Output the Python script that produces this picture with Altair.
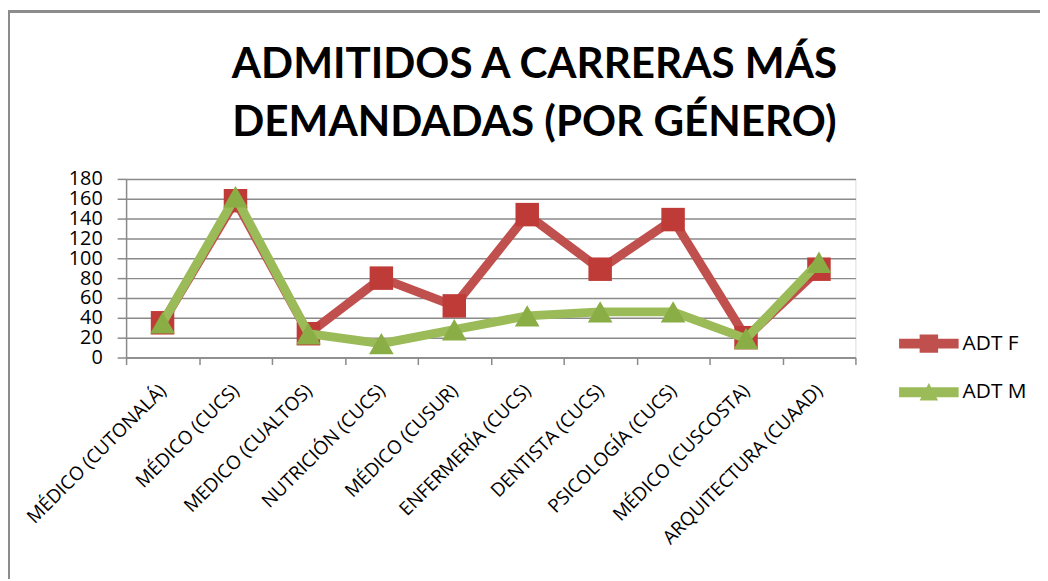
import altair as alt
import pandas as pd

categories = [
    "MÉDICO (CUTONALÁ)", "MÉDICO (CUCS)", "MEDICO (CUALTOS)", "NUTRICIÓN (CUCS)",
    "MÉDICO (CUSUR)", "ENFERMERÍA (CUCS)", "DENTISTA (CUCS)", "PSICOLOGÍA (CUCS)",
    "MÉDICO (CUSCOSTA)", "ARQUITECTURA (CUAAD)",
]
series_names = ["ADT F", "ADT M"]
adt_f = [35, 158, 24, 80, 52, 144, 89, 139, 20, 89]
adt_m = [35, 162, 24, 14, 28, 42, 46, 46, 19, 96]
y_ticks = [0, 20, 40, 60, 80, 100, 120, 140, 160, 180]
title_lines = ["ADMITIDOS A CARRERAS MÁS", "DEMANDADAS (POR GÉNERO)"]

colors = ["#C0504D", "#9BBB59"]
marker_colors = ["#BE3B37", "#8AAE45"]

rows = []
for name, vals in zip(series_names, [adt_f, adt_m]):
    for c, v in zip(categories, vals):
        rows.append({"cat": c, "serie": name, "val": v})
df = pd.DataFrame(rows)

FONT = "Open Sans"
TITLE_FONT = "Lato"
GRID = "#8A8A8A"

x_enc = alt.X(
    "cat:N", sort=categories,
    scale=alt.Scale(type="band", paddingInner=0, paddingOuter=0),
    axis=alt.Axis(
        title=None, tickBand="extent", grid=False, domainColor=GRID, domainWidth=1.5,
        tickColor=GRID, tickWidth=1.5, tickSize=7, labelAngle=315, labelAlign="right",
        labelBaseline="middle", labelPadding=23, labelFontSize=19, labelFont=FONT,
        labelColor="black", labelLimit=400, labelOverlap=False,
    ),
)
y_enc = alt.Y(
    "val:Q",
    scale=alt.Scale(domain=[0, 180], nice=False, zero=True),
    axis=alt.Axis(
        title=None, values=y_ticks, grid=True, gridColor=GRID, gridWidth=1.5,
        domainColor=GRID, domainWidth=1.5, tickColor=GRID, tickWidth=1.5, tickSize=9,
        labelFontSize=20, labelFont=FONT, labelColor="black", labelPadding=15,
        labelOverlap=False, labelBound=False, labelFlush=False,
    ),
)
color_scale = alt.Scale(domain=series_names, range=colors)

base = alt.Chart(df)

def line_layer(name, color):
    return base.transform_filter(alt.datum.serie == name).mark_line(
        strokeWidth=9, strokeJoin="round", strokeCap="round", color=color
    ).encode(x=x_enc, y=y_enc)

def point_layer(name, shape, size, color):
    return base.transform_filter(alt.datum.serie == name).mark_point(
        shape=shape, size=size, filled=True, opacity=1, color=color
    ).encode(x=x_enc, y=y_enc)

path_f = ("M-2,-0.33L2,-0.33L2,0.33L-2,0.33Z "
          "M-0.62,-0.62L0.62,-0.62L0.62,0.62L-0.62,0.62Z")
path_m = ("M-2,-0.33L2,-0.33L2,0.33L-2,0.33Z "
          "M0,-0.62L0.62,0.56L-0.62,0.56Z")

leg = alt.Legend(
    title=None, orient="none", legendX=794, legendY=151, labelFontSize=21,
    labelFont=FONT, labelColor="black", labelOffset=19, rowPadding=24,
    symbolSize=900, symbolStrokeWidth=0, symbolOpacity=1,
)
legend_layer = base.mark_point(filled=True, size=900, opacity=0).encode(
    x=x_enc, y=y_enc,
    color=alt.Color("serie:N", scale=color_scale, legend=leg),
    shape=alt.Shape("serie:N", scale=alt.Scale(domain=series_names, range=[path_f, path_m]), legend=leg),
)

border_top = alt.Chart(df).mark_rule(color="#8C8C8C", strokeWidth=2).encode(
    x=alt.value(-119), x2=alt.value(921), y=alt.value(-169)
)
border_left = alt.Chart(df).mark_rule(color="#8C8C8C", strokeWidth=2).encode(
    x=alt.value(-118), y=alt.value(-170), y2=alt.value(403)
)

chart = alt.layer(
    border_top, border_left,
    line_layer("ADT F", colors[0]),
    point_layer("ADT F", "square", 560, marker_colors[0]),
    line_layer("ADT M", colors[1]),
    point_layer("ADT M", "triangle-up", 620, marker_colors[1]),
    legend_layer,
).properties(
    width=735, height=180,
    title=alt.TitleParams(
        text=title_lines, font=TITLE_FONT, fontSize=42.5, fontWeight="bold", color="black",
        anchor="middle", frame="group", dx=44, dy=170, offset=0, lineHeight=58,
        baseline="alphabetic",
    ),
    autosize=alt.AutoSizeParams(type="none"),
    padding={"left": 119, "top": 170, "right": 186, "bottom": 223},
).configure_view(stroke=None).configure(background="white")

chart.save("out.html", embed_options={"renderer": "svg", "actions": False})
